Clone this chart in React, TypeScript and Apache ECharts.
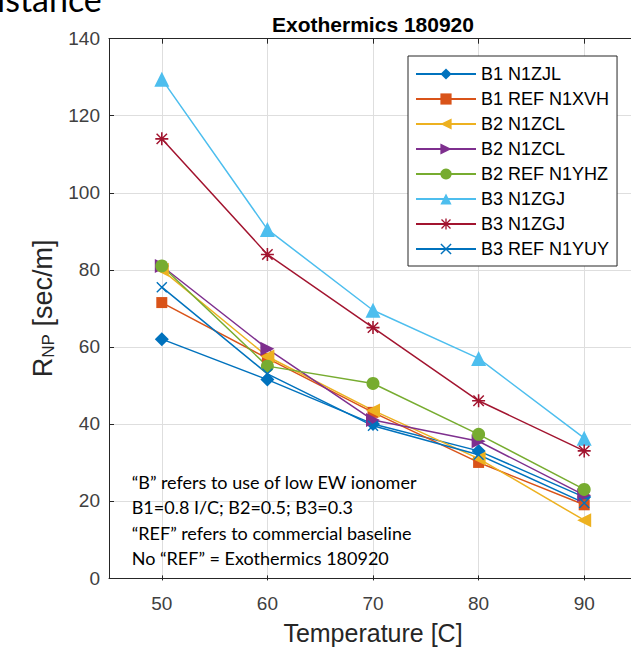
import React, { useEffect, useRef } from "react";
import * as echarts from "echarts";

const temps = [50, 60, 70, 80, 90];
const seriesNames = [
  "B1 N1ZJL",
  "B1 REF N1XVH",
  "B2 N1ZCL",
  "B2 N1ZCL ",
  "B2 REF N1YHZ",
  "B3 N1ZGJ",
  "B3 N1ZGJ ",
  "B3 REF N1YUY",
];
const b1N1ZJL = [62, 51.5, 40, 33, 21];
const b1RefN1XVH = [71.5, 57, 43, 30, 19];
const b2N1ZCLa = [80, 57.5, 43.5, 31, 15];
const b2N1ZCLb = [81, 59.5, 41, 35.5, 21.5];
const b2RefN1YHZ = [81, 55, 50.5, 37.3, 23];
const b3N1ZGJa = [129.5, 90.5, 69.5, 57, 36.3];
const b3N1ZGJb = [114, 84, 65, 46, 33];
const b3RefN1YUY = [75.5, 53, 39.5, 32, 19.5];
const seriesValues = [b1N1ZJL, b1RefN1XVH, b2N1ZCLa, b2N1ZCLb, b2RefN1YHZ, b3N1ZGJa, b3N1ZGJb, b3RefN1YUY];

const colors = ["#0072BD", "#D95319", "#EDB120", "#7E2F8E", "#77AC30", "#4DBEEE", "#A2142F", "#0072BD"];

const asterisk =
  "path://M0,4.4L10,4.4L10,5.6L0,5.6Z M4.4,0L5.6,0L5.6,10L4.4,10Z M0.6,1.4L1.4,0.6L9.4,8.6L8.6,9.4Z M8.6,0.6L9.4,1.4L1.4,9.4L0.6,8.6Z";
const xMark = "path://M0.6,1.4L1.4,0.6L9.4,8.6L8.6,9.4Z M8.6,0.6L9.4,1.4L1.4,9.4L0.6,8.6Z";
const leftTri = "path://M0,5L10,0L10,10Z";
const rightTri = "path://M10,5L0,0L0,10Z";
const symbols = ["diamond", "rect", leftTri, rightTri, "circle", "triangle", asterisk, xMark];
const symbolSizes = [14, 11, 14, 14, 13, 15, 13, 11];

const noteLines = [
  "\u201CB\u201D refers to use of low EW ionomer",
  "B1=0.8 I/C; B2=0.5; B3=0.3",
  "\u201CREF\u201D refers to commercial baseline",
  "No \u201CREF\u201D = Exothermics 180920",
];

const FONT = "Liberation Sans, Arial, sans-serif";

export default function App() {
  const ref = useRef<HTMLDivElement>(null);
  useEffect(() => {
    if (!ref.current) return;
    const chart = echarts.init(ref.current, null, { renderer: "svg" });
    const top = 38.7;
    const height = 541.7;
    chart.setOption({
      animation: false,
      backgroundColor: "#ffffff",
      title: {
        text: "Exothermics 180920",
        left: 368,
        textAlign: "center",
        top: 9,
        textStyle: { fontFamily: FONT, fontSize: 21, fontWeight: "bold", color: "#000" },
      },
      grid: [
        { left: 109, top, width: 528, height },
        { left: 161.8, top, width: 422.4, height },
      ],
      xAxis: [
        {
          gridIndex: 0,
          type: "value",
          min: 45,
          max: 95,
          position: "bottom",
          axisLine: { show: true, lineStyle: { color: "#262626", width: 1 } },
          axisTick: { show: false },
          axisLabel: { show: false },
          splitLine: { show: false },
          name: "Temperature [C]",
          nameLocation: "middle",
          nameGap: 42,
          nameTextStyle: { fontFamily: FONT, fontSize: 25, color: "#262626" },
        },
        {
          gridIndex: 0,
          type: "value",
          min: 45,
          max: 95,
          position: "top",
          axisLine: { show: true, lineStyle: { color: "#262626", width: 1 } },
          axisTick: { show: false },
          axisLabel: { show: false },
          splitLine: { show: false },
        },
        {
          gridIndex: 1,
          type: "value",
          min: 50,
          max: 90,
          interval: 10,
          position: "bottom",
          axisLine: { show: false },
          axisTick: { show: true, inside: true, length: 5, lineStyle: { color: "#262626" } },
          axisLabel: { show: true, margin: 14, fontFamily: FONT, fontSize: 19, color: "#404040" },
          splitLine: { show: true, lineStyle: { color: "#dedede", width: 1 } },
        },
        {
          gridIndex: 1,
          type: "value",
          min: 50,
          max: 90,
          interval: 10,
          position: "top",
          axisLine: { show: false },
          axisTick: { show: true, inside: true, length: 5, lineStyle: { color: "#262626" } },
          axisLabel: { show: false },
          splitLine: { show: false },
        },
      ],
      yAxis: [
        {
          gridIndex: 0,
          type: "value",
          min: 0,
          max: 140,
          interval: 20,
          axisLine: { show: true, lineStyle: { color: "#262626", width: 1 } },
          axisTick: { show: true, inside: true, length: 5, lineStyle: { color: "#262626" } },
          axisLabel: { margin: 9, fontFamily: FONT, fontSize: 19, color: "#404040" },
          splitLine: { show: true, lineStyle: { color: "#dedede", width: 1 } },
          name: "{r|R}{s|NP}{r| [sec/m]}",
          nameLocation: "middle",
          nameGap: 52,
          nameTextStyle: {
            color: "#262626",
            rich: {
              r: { fontFamily: FONT, fontSize: 27, color: "#262626" },
              s: { fontFamily: FONT, fontSize: 17, color: "#262626", verticalAlign: "bottom", padding: [12, 0, 0, 0] },
            },
          },
        },
        { gridIndex: 1, type: "value", min: 0, max: 140, show: false },
      ],
      legend: {
        orient: "vertical",
        left: 408,
        top: 56,
        padding: [9, 8, 8, 7],
        itemGap: 7,
        itemWidth: 60,
        itemHeight: 14,
        borderColor: "#262626",
        borderWidth: 1,
        backgroundColor: "#ffffff",
        data: seriesNames,
        formatter: (n: string) => n.trim(),
        textStyle: { fontFamily: FONT, fontSize: 18, color: "#000" },
      },
      graphic: [
        {
          type: "text",
          x: -3,
          y: 15,
          style: { text: "istance", fontFamily: "Lato, sans-serif", fontSize: 34, fill: "#000", verticalAlign: "bottom" },
        },
        {
          type: "text",
          x: 131.7,
          y: 469,
          z: 100,
          style: {
            text: noteLines.join("\n"),
            fontFamily: "Lato, sans-serif",
            fontSize: 18,
            lineHeight: 25.5,
            fill: "#000",
          },
        },
      ],
      series: seriesNames.map((name, i) => ({
        name,
        type: "line",
        xAxisIndex: 0,
        yAxisIndex: 0,
        data: temps.map((t, j) => [t, seriesValues[i][j]]),
        symbol: symbols[i],
        symbolSize: symbolSizes[i],
        color: colors[i],
        lineStyle: { color: colors[i], width: 1.5 },
        itemStyle: { color: colors[i], borderWidth: 0 },
        emphasis: { disabled: true },
      })),
    });
    return () => chart.dispose();
  }, []);
  return (
    <div style={{ width: 631, height: 650, position: "absolute", left: 0, top: 0, overflow: "hidden" }}>
      <div ref={ref} style={{ width: 660, height: 650 }} />
    </div>
  );
}
